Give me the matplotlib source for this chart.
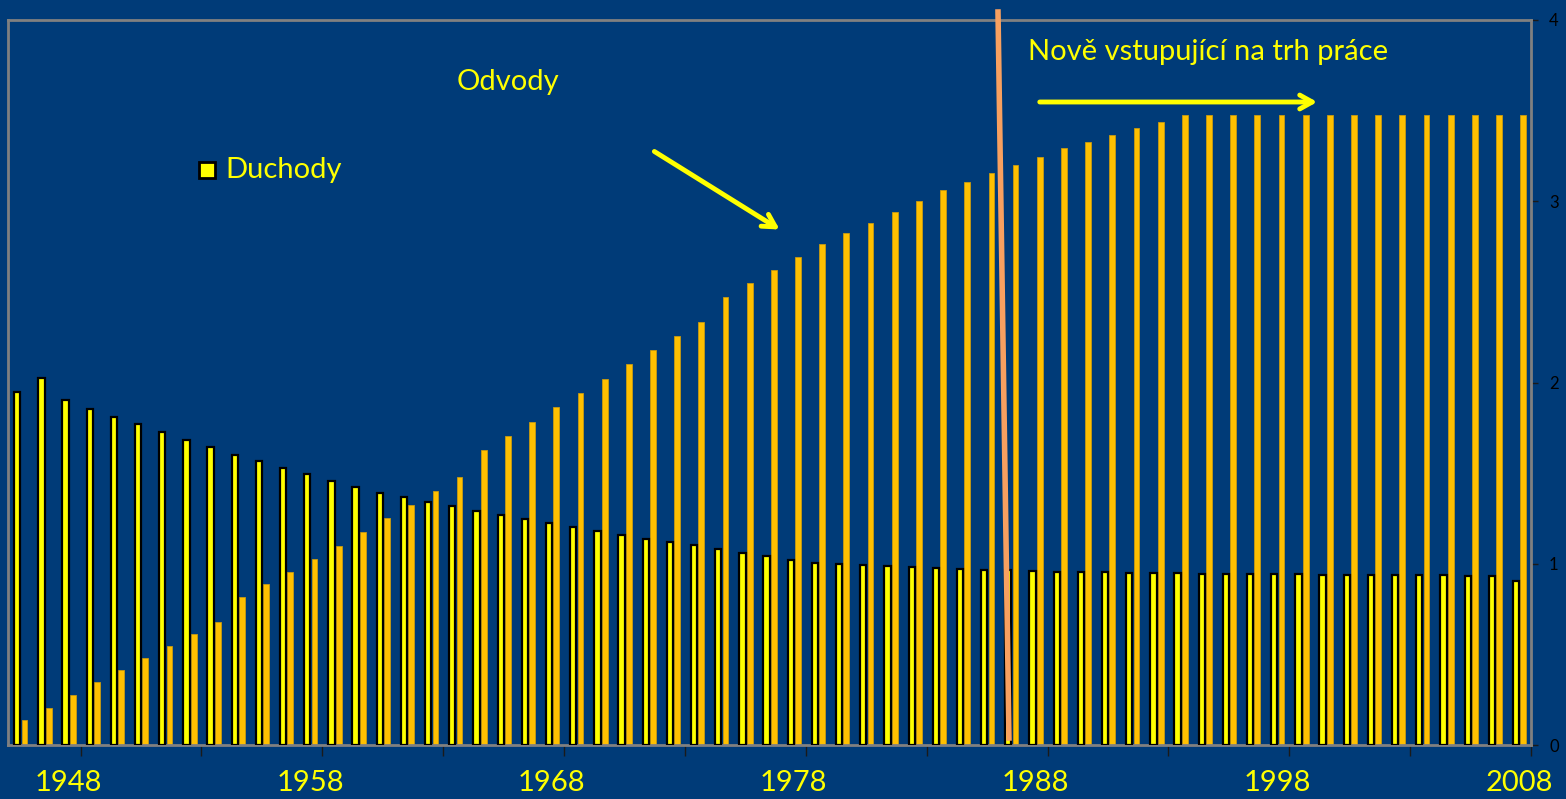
import matplotlib
matplotlib.use('Agg')
import matplotlib.pyplot as plt
import numpy as np

# yearly data 1946-2008
years = list(range(1946, 2009))
duchody = [1.947, 2.024, 1.903, 1.853, 1.809, 1.771, 1.726, 1.682, 1.644, 1.600,
           1.566, 1.528, 1.495, 1.456, 1.423, 1.390, 1.368, 1.340, 1.318, 1.291,
           1.269, 1.247, 1.225, 1.202, 1.180, 1.158, 1.136, 1.120, 1.103, 1.081,
           1.059, 1.042, 1.020, 1.004, 0.998, 0.993, 0.987, 0.982, 0.976, 0.971,
           0.965, 0.965, 0.960, 0.957, 0.955, 0.952, 0.950, 0.948, 0.947, 0.946,
           0.945, 0.944, 0.943, 0.942, 0.940, 0.940, 0.939, 0.939, 0.938, 0.936,
           0.934, 0.932, 0.905]
odvody = [0.138, 0.204, 0.276, 0.347, 0.414, 0.480, 0.546, 0.612, 0.678, 0.816,
          0.888, 0.954, 1.026, 1.098, 1.175, 1.250, 1.324, 1.401, 1.478, 1.627,
          1.704, 1.782, 1.864, 1.942, 2.019, 2.101, 2.179, 2.256, 2.333, 2.471,
          2.548, 2.620, 2.692, 2.763, 2.824, 2.879, 2.940, 3.001, 3.061, 3.105,
          3.155, 3.199, 3.243, 3.293, 3.326, 3.365, 3.403, 3.436] + [3.475] * 15
label_years = [1948, 1958, 1968, 1978, 1988, 1998, 2008]
y_ticks = [0, 1, 2, 3, 4]

BG = '#003B78'
W, H = 1566, 799
plt.rcParams['font.family'] = ['Lato', 'DejaVu Sans']

fig = plt.figure(figsize=(W / 100, H / 100), dpi=100, facecolor=BG)
ax = fig.add_axes([8 / W, (H - 745) / H, (1531 - 8) / W, (745 - 20) / H])
ax.set_facecolor(BG)

x = np.arange(len(years))
ax.bar(x + 0.18, odvody, width=0.24, color='#FFC000', edgecolor='#C89A10',
       linewidth=0.6, zorder=2)
ax.bar(x - 0.12, duchody, width=0.26, color='#FFFF00', edgecolor='black',
       linewidth=1.6, zorder=3)

ax.set_xlim(-0.5, len(years) - 0.5)
ax.set_ylim(0, 4)

# category axis: labels every 10 years, tick marks every 5
ax.set_xticks([years.index(y) for y in label_years])
ax.set_xticklabels([str(y) for y in label_years], color='#FFFF00', fontsize=21)
ax.tick_params(axis='x', length=0, pad=18)
ax.set_xticks(np.arange(2.5, len(years), 5), minor=True)
ax.tick_params(axis='x', which='minor', length=8, width=1, color='#1a1a1a',
               direction='out')

ax.yaxis.tick_right()
ax.set_yticks(y_ticks)
ax.tick_params(axis='y', length=5, width=1, color='#1a1a1a', labelcolor='black',
               labelsize=12, pad=8)

for s in ax.spines.values():
    s.set_color('#808080')
    s.set_linewidth(2)

# annotations
fig.text(457 / W, 1 - 82 / H, 'Odvody', color='#FFFF00', fontsize=21,
         ha='left', va='center')
fig.text(1028 / W, 1 - 52 / H, 'Nově vstupující na trh práce', color='#FFFF00',
         fontsize=21, ha='left', va='center')
ax.annotate('', xy=(782 / W, 1 - 231 / H), xytext=(652 / W, 1 - 150 / H),
            xycoords='figure fraction', textcoords='figure fraction',
            arrowprops=dict(arrowstyle='->,head_length=0.9,head_width=0.5',
                            color='#FFFF00', lw=3.5))
ax.annotate('', xy=(1320 / W, 1 - 102 / H), xytext=(1037 / W, 1 - 102 / H),
            xycoords='figure fraction', textcoords='figure fraction',
            arrowprops=dict(arrowstyle='->,head_length=0.9,head_width=0.5',
                            color='#FFFF00', lw=3.5))
fig.add_artist(plt.Line2D([998 / W, 1009 / W], [1 - 12 / H, 1 - 738 / H],
                          color='#F8A060', lw=4, zorder=5))

# legend
fig.add_artist(plt.Rectangle((199 / W, 1 - 178 / H), 16 / W, 16 / H,
                             facecolor='#FFFF00', edgecolor='black', lw=2))
fig.text(225 / W, 1 - 170 / H, 'Duchody', color='#FFFF00', fontsize=21,
         ha='left', va='center')

fig.savefig('out.png', dpi=100, facecolor=BG)
